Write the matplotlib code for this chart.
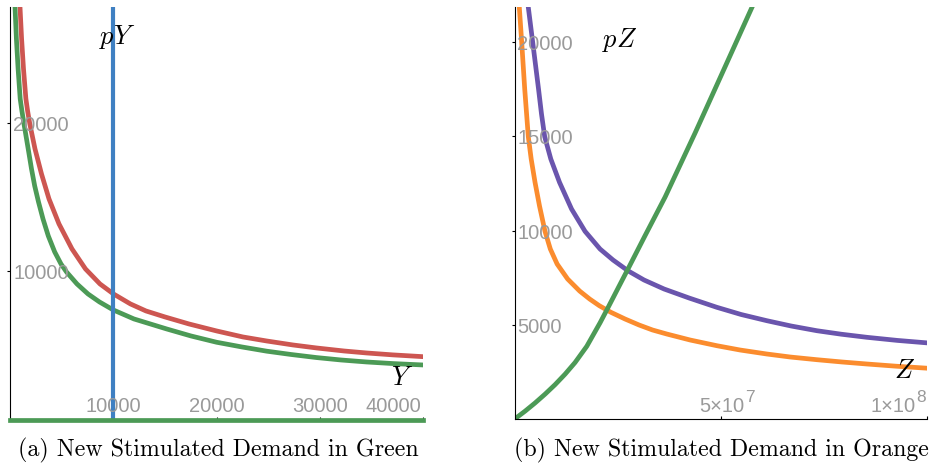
import matplotlib
matplotlib.use("Agg")
import matplotlib.pyplot as plt
import numpy as np
from matplotlib.transforms import offset_copy

# -- Panel (a): demand for Y ---------------------------------------------------
y_red = [852, 968, 1123, 1307, 1539, 1704, 1917, 2420, 3049, 3776, 4743, 6002,
         7309, 8712, 10019, 11665, 13165, 15005, 17328, 20010, 22556, 24850,
         27396, 29690, 32333, 34530, 37076, 40000]
p_red = [29703, 27815, 25657, 23634, 21612, 20803, 19926, 18240, 16554, 14869,
         13183, 11497, 10148, 9137, 8463, 7788, 7316, 6912, 6440, 5968, 5563,
         5293, 5024, 4821, 4619, 4484, 4355, 4235]

y_green = [387, 484, 620, 784, 987, 1152, 1355, 1810, 2081, 2391, 2759, 3195,
           3708, 4327, 4937, 5469, 6486, 7551, 8664, 10000, 12004, 15169, 17522,
           20010, 22459, 24850, 27202, 29690, 32043, 34530, 37076, 40000]
p_green = [29703, 27815, 25657, 23634, 21612, 20803, 19926, 18038, 16892, 15745,
           14666, 13520, 12374, 11295, 10486, 9946, 9137, 8463, 7923, 7384, 6777,
           6103, 5631, 5206, 4889, 4606, 4383, 4174, 4012, 3877, 3770, 3675]

y_fixed = 10000      # vertical blue line
p_floor = 0          # green line along the Y axis
y_xticks = [10000, 20000, 30000, 40000]
y_yticks = [10000, 20000]
y_xmax, y_pmax = 40000, 27800

# -- Panel (b): demand for Z (Z in millions) -----------------------------------
z_purple_m = [2.86, 3.30, 4.37, 5.78, 6.50, 7.28, 8.76, 10.87, 13.79, 17.06,
              20.70, 23.86, 27.57, 31.38, 36.24, 42.31, 49.03, 54.93, 61.17,
              67.06, 73.30, 79.20, 85.44, 92.79, 100.39]
p_purple = [22812, 21841, 19984, 17507, 16180, 14976, 13793, 12557, 11141, 9958,
            9019, 8435, 7851, 7374, 6897, 6419, 5926, 5544, 5215, 4934, 4684,
            4499, 4334, 4170, 4032]

z_orange_m = [0.87, 1.12, 1.70, 2.43, 3.30, 4.00, 4.93, 6.02, 7.35, 8.64, 10.29,
              12.84, 15.75, 18.18, 20.53, 23.35, 26.77, 30.17, 33.45, 36.89,
              42.55, 49.03, 54.68, 61.17, 66.82, 73.30, 79.44, 85.44, 92.55,
              100.39]
p_orange = [22812, 21841, 19984, 17507, 14976, 13793, 12557, 11300, 9958, 9019,
            8223, 7427, 6790, 6366, 6011, 5660, 5305, 4987, 4721, 4509, 4191,
            3889, 3660, 3448, 3289, 3146, 3024, 2918, 2801, 2690]

z_green_m = [0, 2.50, 4.93, 7.35, 9.78, 12.21, 14.64, 17.48, 20.70, 22.33, 23.86,
             25.56, 27.82, 31.63, 36.48, 43.77, 51.05, 57.52, 59.54]
p_green_z = [0, 414, 849, 1316, 1820, 2377, 2997, 3857, 5103, 5782, 6430, 7151,
             8106, 9735, 11777, 15183, 18700, 21830, 22812]

z_yticks = [5000, 10000, 15000, 20000]
z_xmax, z_pmax = 1.0e8, 21860

RED = "#CD5651"
GREEN = "#4C9A56"
BLUE = "#3F80C2"
PURPLE = "#6A55AD"
ORANGE = "#FB8C2E"
GRAY = "#9A9A9A"
LW = 3.4

plt.rcParams["mathtext.fontset"] = "cm"
TICK_FONT = dict(family="Liberation Sans", size=14.5, color=GRAY)
SUP_FONT = dict(family="Liberation Sans", size=12.5, color=GRAY)

fig = plt.figure(figsize=(9.3, 4.64), dpi=100)
W, H = 930, 464


def add_axes(x0, x1, ytop, ybot):
    ax = fig.add_axes([x0 / W, 1 - ybot / H, (x1 - x0) / W, (ybot - ytop) / H])
    for s in ("top", "right"):
        ax.spines[s].set_visible(False)
    for s in ("left", "bottom"):
        ax.spines[s].set_linewidth(0.8)
    ax.tick_params(axis="y", direction="out", length=2.5, width=0.8)
    ax.tick_params(axis="x", direction="in", length=2, width=0.8)
    return ax


def ylabels(ax, ticks, dx=3):
    tr = offset_copy(ax.get_yaxis_transform(), fig=fig, x=dx, y=-7.2, units="dots")
    for t in ticks:
        ax.text(0, t, f"{t}", transform=tr, ha="left", va="baseline", **TICK_FONT)


# -- (a) -----------------------------------------------------------------------
ax1 = add_axes(10, 423, 8, 420.5)
ax1.set_xlim(0, y_xmax)
ax1.set_ylim(0, y_pmax)
ax1.plot(y_red, p_red, color=RED, lw=LW)
ax1.plot(y_green, p_green, color=GREEN, lw=LW)
ax1.axvline(y_fixed, color=BLUE, lw=3.0)
ax1.axhline(p_floor, color=GREEN, lw=LW, clip_on=False, zorder=5)
ax1.set_xticks(y_xticks)
ax1.set_yticks(y_yticks)
ax1.set_xticklabels([])
ax1.set_yticklabels([])
ylabels(ax1, y_yticks)
xtr = offset_copy(ax1.get_xaxis_transform(), fig=fig, x=0, y=8.5, units="dots")
xtr_r = offset_copy(ax1.get_xaxis_transform(), fig=fig, x=-2, y=8.5, units="dots")
for t in y_xticks:
    if t == y_xmax:
        ax1.text(t, 0, f"{t}", transform=xtr_r, ha="right", va="baseline", **TICK_FONT)
    else:
        ax1.text(t, 0, f"{t}", transform=xtr, ha="center", va="baseline", **TICK_FONT)
ax1.text((116.7 - 10) / 413, 1 - (37 - 8) / 412.5, r"$pY$", transform=ax1.transAxes,
         ha="center", va="center", fontsize=19)
ax1.text((402 - 10) / 413, 1 - (378 - 8) / 412.5, r"$Y$", transform=ax1.transAxes,
         ha="center", va="center", fontsize=19)

# -- (b) -----------------------------------------------------------------------
ax2 = add_axes(514.7, 927, 8, 420)
ax2.set_xlim(0, z_xmax)
ax2.set_ylim(0, z_pmax)
ax2.plot(np.array(z_purple_m) * 1e6, p_purple, color=PURPLE, lw=LW)
ax2.plot(np.array(z_orange_m) * 1e6, p_orange, color=ORANGE, lw=LW)
ax2.plot(np.array(z_green_m) * 1e6, p_green_z, color=GREEN, lw=LW)
ax2.set_xticks([5e7, 1e8])
ax2.set_yticks(z_yticks)
ax2.set_xticklabels([])
ax2.set_yticklabels([])
ylabels(ax2, z_yticks, dx=2.6)

xt = ax2.get_xaxis_transform()
ax2.text(5e7, 0, "5×10", transform=offset_copy(xt, fig=fig, x=1, y=8.3, units="dots"),
         ha="center", va="baseline", **TICK_FONT)
ax2.text(5e7, 0, "7", transform=offset_copy(xt, fig=fig, x=24.5, y=18.3, units="dots"),
         ha="left", va="baseline", **SUP_FONT)
ax2.text(1e8, 0, "1×10", transform=offset_copy(xt, fig=fig, x=-11, y=8.3, units="dots"),
         ha="right", va="baseline", **TICK_FONT)
ax2.text(1e8, 0, "8", transform=offset_copy(xt, fig=fig, x=-1, y=18.3, units="dots"),
         ha="right", va="baseline", **SUP_FONT)
ax2.text((620 - 514.7) / 412.3, 1 - (40 - 8) / 412, r"$pZ$", transform=ax2.transAxes,
         ha="center", va="center", fontsize=19)
ax2.text((905 - 514.7) / 412.3, 1 - (371 - 8) / 412, r"$Z$", transform=ax2.transAxes,
         ha="center", va="center", fontsize=19)

# -- captions ------------------------------------------------------------------
fig.text(218 / W, 7.3 / H, "(a) New Stimulated Demand in Green",
         family="cmr10", fontsize=17.2, ha="center", va="baseline")
fig.text(721 / W, 7.3 / H, "(b) New Stimulated Demand in Orange",
         family="cmr10", fontsize=17.2, ha="center", va="baseline")

fig.savefig("out.png", dpi=100)
